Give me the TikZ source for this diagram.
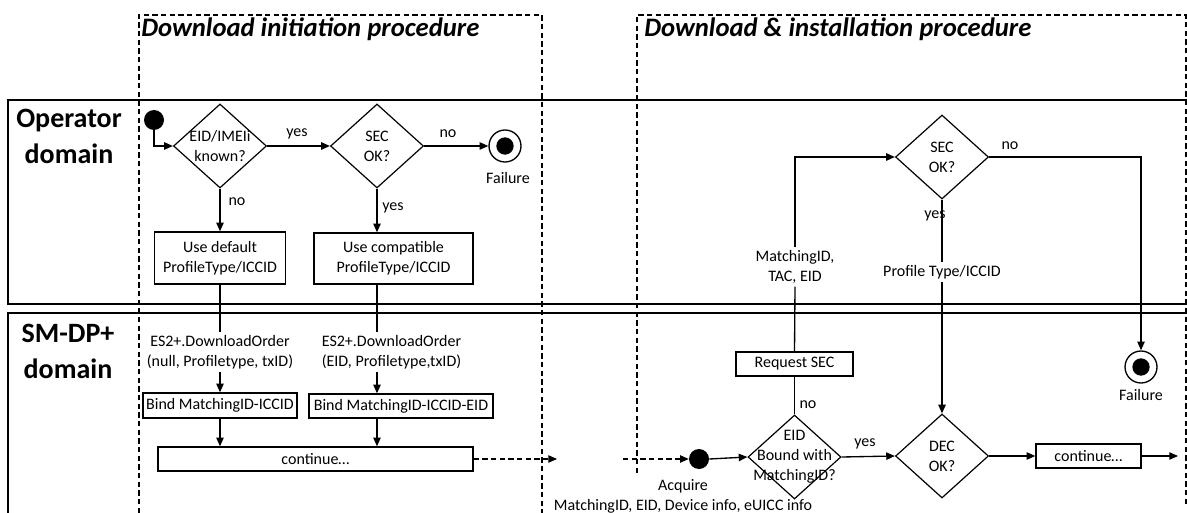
\documentclass[tikz,border=0pt]{standalone}
\usepackage{fontspec}
\setmainfont{Carlito}
\usetikzlibrary{arrows.meta,shapes.geometric}

\begin{document}
\begin{tikzpicture}[x=0.75pt, y=-0.75pt,
    every node/.style={font=\fontsize{12}{15}\selectfont},
    lane/.style={line width=1.5pt},
    line/.style={line width=1pt},
    arr/.style={line width=1pt, -{Triangle[length=6.5pt,width=5.5pt]}},
    dashline/.style={line width=0.9pt, dash pattern=on 4pt off 2.5pt},
    decision/.style={diamond, draw, line width=0.9pt, minimum width=69.75pt, minimum height=63pt, inner sep=0pt},
    act/.style={rectangle, draw, line width=1pt, inner sep=1.5pt, align=center},
    txt/.style={align=center, inner sep=2pt},
    initst/.style={circle, fill, minimum size=15pt, inner sep=0pt},
    endst/.style={circle, draw, line width=1pt, minimum size=24pt, inner sep=0pt,
                  path picture={\fill (path picture bounding box.center) circle (6.5pt);}},
    lanetitle/.style={font=\fontsize{21}{27}\selectfont\bfseries, align=center},
    proctitle/.style={font=\fontsize{20}{24}\selectfont\bfseries\itshape, anchor=base west, inner sep=0pt}]
            \useasboundingbox (0,0) rectangle (1187,513);
            % Swimlanes
            \draw[lane] (1187,100) -- (8,100) -- (8,304) -- (1187,304);
            \draw[lane] (1187,313) -- (8,313) -- (8,513);
            \node[lanetitle]                  (lnop)     at (69,136)    {Operator\\domain};
            \node[lanetitle]                  (lndp)     at (68,351)    {SM-DP+\\domain};
            % Procedure frames
            \draw[dashline] (139,513) -- (139,15) -- (542,15) -- (542,513);
            \draw[dashline] (637,473) -- (637,15) -- (1186,15) -- (1186,505);
            \node[proctitle]                  (ttlinit)  at (141,37)    {Download initiation procedure};
            \node[proctitle]                  (ttlinst)  at (644,37)    {Download \& installation procedure};
            % Initiation: operator domain
            \node[initst]                     (start)    at (154,120)   {};
            \node[decision, label={[align=center]center:EID/IMEIi\\known?}]
                                              (eidknown) at (220,146)   {};
            \node[decision, label={[align=center]center:SEC\\OK?}]
                                              (secok)    at (377,146)   {};
            \node[endst]                      (fail)     at (505,146)   {};
            \node                             (failtxt)  at (508,178)   {Failure};
            \node[act, minimum width=98.25pt, minimum height=39pt]
                                              (usedef)   at (220,258)   {Use default\\ProfileType/ICCID};
            \node[act, minimum width=119.25pt, minimum height=38.25pt]
                                              (usecomp)  at (393.5,258.5) {Use compatible\\ProfileType/ICCID};
            \node                             (yA)       at (297,134)   {yes};
            \node                             (nA)       at (448,134)   {no};
            \node                             (nB)       at (237,202)   {no};
            \node                             (yB)       at (393,208)   {yes};
            % Initiation: SM-DP+ domain
            \node[txt]                        (orddef)   at (220,352)   {ES2+.DownloadOrder\\(null, Profiletype, txID)};
            \node[txt]                        (ordcomp)  at (391.5,352) {ES2+.DownloadOrder\\(EID, Profiletype,txID)};
            \node[act, minimum width=115.5pt, minimum height=18.75pt]
                                              (binddef)  at (220,405.5) {Bind MatchingID-ICCID};
            \node[act, minimum width=138pt, minimum height=18pt]
                                              (bindcomp) at (401,406)   {Bind MatchingID-ICCID-EID};
            \node[act, minimum width=236.25pt, minimum height=18pt]
                                              (contA)    at (315.5,459) {continue…};
            \coordinate                       (gapL)     at (557,459);
            \coordinate                       (gapR)     at (623,459);
            % Installation
            \node[initst]                     (acq)      at (699,459)   {};
            \node[txt]                        (acqtxt)   at (683,496)   {Acquire\\MatchingID, EID, Device info, eUICC info};
            \node[decision, label={[align=center]center:EID\\Bound with\\MatchingID?}]
                                              (eidbound) at (794.5,457) {};
            \node[act, minimum width=87.75pt, minimum height=18pt]
                                              (reqsec)   at (794.5,364) {Request SEC};
            \node[txt]                        (secreq)   at (795,267)   {MatchingID,\\TAC, EID};
            \node[decision, label={[align=center]center:SEC\\OK?}]
                                              (secokB)   at (942,157)   {};
            \node[txt]                        (ptype)    at (942,272)   {Profile Type/ICCID};
            \node[decision, label={[align=center]center:DEC\\OK?}]
                                              (decok)    at (942,456)   {};
            \node[endst]                      (failB)    at (1141,367)  {};
            \node                             (failBtxt) at (1141,395)  {Failure};
            \node[act, minimum width=78.75pt, minimum height=18pt]
                                              (contB)    at (1088.5,456) {continue…};
            \coordinate                       (exit)     at (1178,456);
            \node                             (nC)       at (1010,146)  {no};
            \node                             (yC)       at (935,216)   {yes};
            \node                             (nD)       at (808,405)   {no};
            \node                             (yD)       at (865,444)   {yes};
            % Connectors
            \draw[arr]  (start) |- (eidknown.west);
            \draw[arr]  (eidknown.east) -- (secok.west);
            \draw[arr]  (secok.east) -- (fail.west);
            \draw[arr]  (eidknown.south) -- (usedef.north);
            \draw[arr]  (secok.south) -- (secok.south |- usecomp.north);
            \draw[line] (usedef.south) -- (orddef.north);
            \draw[arr]  (orddef.south) -- (binddef.north);
            \draw[arr]  (binddef.south) -- (binddef.south |- contA.north);
            \draw[line] (secok.south |- usecomp.south) -- (secok.south |- ordcomp.north);
            \draw[arr]  (secok.south |- ordcomp.south) -- (secok.south |- bindcomp.north);
            \draw[arr]  (secok.south |- bindcomp.south) -- (secok.south |- contA.north);
            \draw[dashline, -{Triangle[length=6.5pt,width=5.5pt]}] (contA.east) -- (gapL);
            \draw[dashline, -{Triangle[length=6.5pt,width=5.5pt]}] (gapR) -- (acq.west);
            \draw[arr]  (acq.east) -- (eidbound.west);
            \draw[arr]  (eidbound.east) -- (decok.west);
            \draw[line] (eidbound.north) -- (reqsec.south);
            \draw[line] (reqsec.north) -- (secreq.south);
            \draw[arr]  (secreq.north) |- (secokB.west);
            \draw[line] (secokB.south) -- (ptype.north);
            \draw[arr]  (ptype.south) -- (decok.north);
            \draw[arr]  (secokB.east) -| (failB.north);
            \draw[arr]  (decok.east) -- (contB.west);
            \draw[arr]  (contB.east) -- (exit);
\end{tikzpicture}
\end{document}
